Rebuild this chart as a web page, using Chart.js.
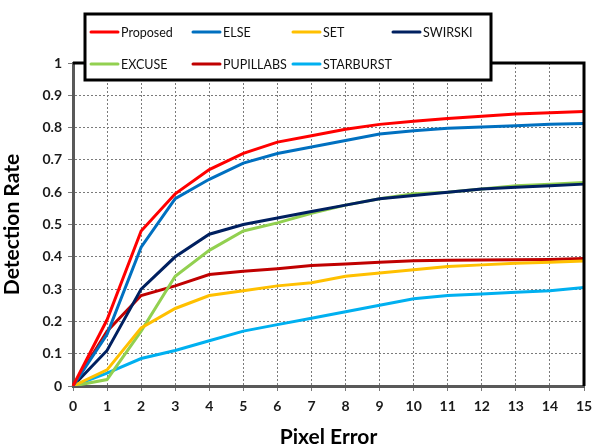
<!DOCTYPE html>
<html>
<head>
<meta charset="utf-8">
<script src="https://cdn.jsdelivr.net/npm/chart.js@4.4.0/dist/chart.umd.min.js"></script>
<style>
  html, body { margin: 0; padding: 0; background: #fff; }
  #wrap { width: 594px; height: 445px; }
</style>
</head>
<body>
<div id="wrap"><canvas id="detection"></canvas></div>
<script>
// pixel error thresholds
const pixelErrors = [0, 1, 2, 3, 4, 5, 6, 7, 8, 9, 10, 11, 12, 13, 14, 15];
const yTicks = [0, 0.1, 0.2, 0.3, 0.4, 0.5, 0.6, 0.7, 0.8, 0.9, 1];

const proposed  = [0, 0.205, 0.48, 0.595, 0.67, 0.72, 0.755, 0.775, 0.795, 0.81, 0.82, 0.828, 0.835, 0.842, 0.846, 0.85];
const elseVals  = [0, 0.16, 0.43, 0.58, 0.64, 0.69, 0.72, 0.74, 0.76, 0.78, 0.79, 0.798, 0.802, 0.806, 0.81, 0.813];
const setVals   = [0, 0.05, 0.18, 0.24, 0.28, 0.295, 0.31, 0.32, 0.34, 0.35, 0.36, 0.37, 0.375, 0.38, 0.383, 0.387];
const swirski   = [0, 0.11, 0.30, 0.40, 0.47, 0.50, 0.52, 0.54, 0.56, 0.58, 0.59, 0.60, 0.61, 0.615, 0.62, 0.625];
const excuse    = [0, 0.02, 0.17, 0.34, 0.42, 0.48, 0.505, 0.535, 0.56, 0.58, 0.595, 0.60, 0.61, 0.62, 0.625, 0.63];
const pupillabs = [0, 0.17, 0.28, 0.31, 0.345, 0.355, 0.363, 0.373, 0.378, 0.383, 0.388, 0.389, 0.39, 0.391, 0.392, 0.395];
const starburst = [0, 0.04, 0.085, 0.11, 0.14, 0.17, 0.19, 0.21, 0.23, 0.25, 0.27, 0.28, 0.285, 0.29, 0.295, 0.305];

const seriesNames  = ['Proposed', 'ELSE', 'SET', 'SWIRSKI', 'EXCUSE', 'PUPILLABS', 'STARBURST'];
const seriesData   = [proposed, elseVals, setVals, swirski, excuse, pupillabs, starburst];
const seriesColors = ['#ff0000', '#0070c0', '#ffc000', '#002060', '#92d050', '#c00000', '#00b0f0'];

function line(name, i) {
  return {
    label: name,
    data: seriesData[i],
    borderColor: seriesColors[i],
    backgroundColor: seriesColors[i],
    borderWidth: 3,
    pointRadius: 0,
    tension: 0,
    fill: false
  };
}

// black frame on top/right plus the boxed legend sitting over the plot
const frameAndLegend = {
  id: 'frameAndLegend',
  afterDraw(chart) {
    const c = chart.ctx;
    const a = chart.chartArea;
    c.save();
    c.strokeStyle = '#000';
    c.lineWidth = 3;
    c.beginPath();
    c.moveTo(a.left, a.top);
    c.lineTo(a.right, a.top);
    c.lineTo(a.right, a.bottom);
    c.stroke();

    // legend box
    const bx = 85, by = 14, bw = 406, bh = 66;
    c.fillStyle = '#fff';
    c.fillRect(bx, by, bw, bh);
    c.lineWidth = 3;
    c.strokeRect(bx, by, bw, bh);

    const cols = [91, 193, 293, 393];
    const rows = [32, 64];
    c.font = '12.5px Lato';
    c.textBaseline = 'middle';
    c.lineCap = 'round';
    chart.data.datasets.forEach((ds, i) => {
      const x = cols[i % 4];
      const y = rows[Math.floor(i / 4)];
      c.strokeStyle = ds.borderColor;
      c.lineWidth = 3;
      c.beginPath();
      c.moveTo(x, y);
      c.lineTo(x + 27, y);
      c.stroke();
      c.fillStyle = '#111';
      c.fillText(ds.label, x + 30, y + 1);
    });
    c.restore();
  }
};

const ctx = document.getElementById('detection').getContext('2d');
const detectionChart = new Chart(ctx, {
  type: 'line',
  data: {
    labels: pixelErrors,
    datasets: seriesNames.map(line)
  },
  options: {
    responsive: true,
    maintainAspectRatio: false,
    animation: false,
    layout: {
      padding: { top: 63, right: 10, left: 0, bottom: 0 }
    },
    scales: {
      x: {
        type: 'category',
        offset: false,
        grid: {
          color: '#7a7a7a',
          lineWidth: 1,
          tickLength: 5,
          tickColor: '#7a7a7a'
        },
        border: { color: '#595959', width: 3, dash: [2, 2] },
        ticks: {
          color: '#1a1a1a',
          font: { family: 'Lato', size: 14, weight: 'bold' },
          padding: 7,
          maxRotation: 0
        },
        title: {
          display: true,
          text: 'Pixel Error',
          color: '#000',
          font: { family: 'Lato', size: 21, weight: 'bold' },
          padding: { top: 6, bottom: -5 }
        },
        afterFit(scale) {
          scale.height = 59;
          scale.paddingLeft = 0;
          scale.paddingRight = 0;
        }
      },
      y: {
        min: 0,
        max: 1,
        afterBuildTicks(scale) { scale.ticks = yTicks.map(v => ({ value: v })); },
        grid: {
          color: '#7a7a7a',
          lineWidth: 1,
          tickLength: 5,
          tickColor: '#7a7a7a'
        },
        border: { color: '#595959', width: 3, dash: [2, 2] },
        ticks: {
          color: '#1a1a1a',
          font: { family: 'Lato', size: 14, weight: 'bold' },
          padding: 6,
          callback: v => String(Math.round(v * 10) / 10)
        },
        title: {
          display: true,
          text: 'Detection Rate',
          color: '#000',
          font: { family: 'Lato', size: 21, weight: 'bold' },
          padding: { top: 0, bottom: 2 }
        },
        afterFit(scale) {
          scale.width = 73;
          scale.paddingTop = 0;
          scale.paddingBottom = 0;
        }
      }
    },
    plugins: {
      legend: { display: false },
      tooltip: { enabled: false }
    }
  },
  plugins: [frameAndLegend]
});
</script>
</body>
</html>
